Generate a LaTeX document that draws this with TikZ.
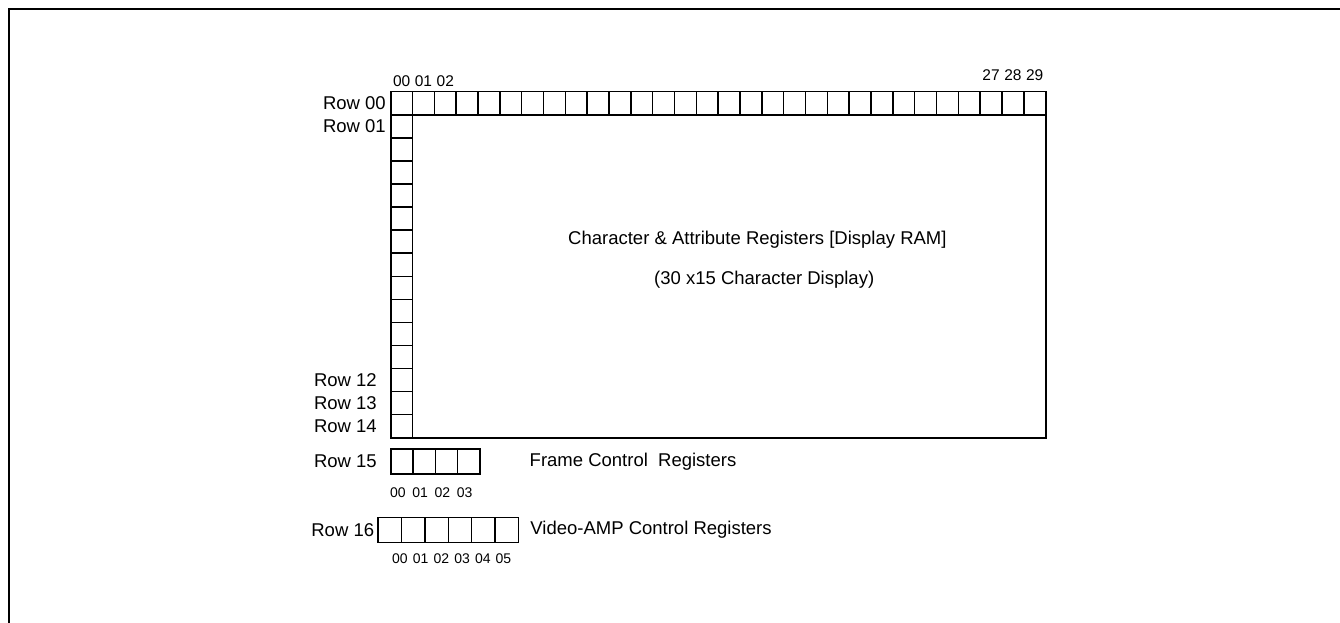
\documentclass[tikz,border=0pt]{standalone}
\usepackage{fontspec}
\setmainfont{Liberation Sans}
\usetikzlibrary{positioning}

\tikzset{
  cell/.style={draw, line width=1.5pt, minimum width=21.83pt, minimum height=23.07pt, inner sep=0pt, anchor=north west},
  regcell/.style={draw, line width=1.5pt, minimum height=25pt, inner sep=0pt, anchor=north west},
  rowlbl/.style={inner sep=0pt, font=\fontsize{18.5}{20}\selectfont},
  collbl/.style={inner sep=0pt, font=\fontsize{15.5}{17}\selectfont},
  sublbl/.style={inner sep=0pt, font=\fontsize{14}{15}\selectfont},
  txt/.style={inner sep=0pt, anchor=west, font=\fontsize{18.5}{20}\selectfont}
}

\begin{document}
\begin{tikzpicture}[x=1pt, y=-1pt]
  \useasboundingbox (0,0) rectangle (1340,623);

  % Outer frame
  \draw[line width=2.2pt] (9,623) -- (9,9) -- (1340,9);

  % Display RAM block
  \node[draw, line width=1.5pt, minimum width=655pt, minimum height=346pt, inner sep=0pt, anchor=north west] (ram) at (390,91) {};

  % Row 00 cells
  \foreach \i in {0,...,29} {
    \node[cell] (top\i) at ({390+21.83*\i}, 91) {};
  }
  % Column 00 cells, rows 01 to 14
  \foreach \j in {1,...,14} {
    \node[cell] (left\j) at (390, {91+23.07*\j}) {};
  }

  % Column numbers
  \node[collbl, above=4pt of top0] {00};
  \node[collbl, above=4pt of top1] {01};
  \node[collbl, above=4pt of top2] {02};
  \node[collbl, above=10pt of top27] {27};
  \node[collbl, above=10pt of top28] {28};
  \node[collbl, above=10pt of top29] {29};

  % Row numbers
  \node[rowlbl, left=4pt of top0] {Row 00};
  \node[rowlbl, left=4pt of left1] {Row 01};
  \node[rowlbl, left=13pt of left12] {Row 12};
  \node[rowlbl, left=13pt of left13] {Row 13};
  \node[rowlbl, left=13pt of left14] {Row 14};

  % Texts in the display block
  \node[txt] (ramtxt) at (568, 240) {Character \& Attribute Registers [Display RAM]};
  \node[txt] (ramsize) at (654, 280) {(30 x15 Character Display)};

  % Frame control registers (Row 15)
  \foreach \i in {0,...,3} {
    \node[regcell, minimum width=22.25pt] (fc\i) at ({390+22.25*\i}, 448.3) {};
    \node[sublbl, below right=13pt and 0pt of fc\i.south west] {0\i};
  }
  \node[rowlbl, left=13pt of fc0] {Row 15};
  \node[txt, right=49pt of fc3] (fctxt) {Frame Control\ \ Registers};

  % Video-AMP control registers (Row 16)
  \foreach \i in {0,...,5} {
    \node[regcell, minimum width=23.4pt] (va\i) at ({377.3+23.4*\i}, 516.7) {};
    \node[sublbl, anchor=north west] (valbl\i) at ({392+20.7*\i}, 554) {0\i};
  }
  \node[rowlbl, left=3pt of va0] {Row 16};
  \node[txt, right=11pt of va5] (vatxt) {Video-AMP Control Registers};
\end{tikzpicture}
\end{document}
